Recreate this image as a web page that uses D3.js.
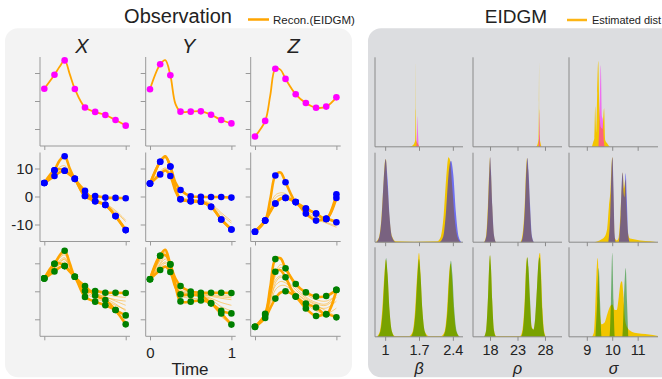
<!DOCTYPE html>
<html>
<head>
<meta charset="utf-8">
<script src="https://cdn.jsdelivr.net/npm/d3@7"></script>
<style>
  body { margin: 0; background: #fff; }
  svg { font-family: "Liberation Sans", Arial, sans-serif; }
</style>
</head>
<body>
<svg id="chart" width="662" height="379"></svg>
<script>
// time grid of the reconstructed curves, observations sit on obsIdx
const times = [0, 0.125, 0.1875, 0.25, 0.3125, 0.375, 0.5, 0.625, 0.75, 0.875, 1]
const obsIdx = [0, 1, 3, 5, 6, 7, 8, 9, 10]
const varNames = ['X', 'Y', 'Z']
const paramNames = ['β', 'ρ', 'σ']
const rowColors = ['#ff00ff', '#0000ff', '#008000']
const yTicks = [-10, 0, 10]
const timeTicks = [0, 1]
const paramTicks = [[1, 1.7, 2.4], [18, 23, 28], [9, 10, 11]]
const paramDomains = [[0.79, 2.61], [14.9, 31.1], [8.3, 11.8]]

// row 1 (single trajectory)
const boldX1 = [[4.4, 9.4, 12.2, 14.5, 9.6, 4.3, -2.3, -3.9, -5.0, -6.8, -8.8]]
const boldY1 = [[4.2, 13.1, 14.6, 9.2, -1.0, -3.8, -3.8, -3.7, -4.9, -6.8, -8.0]]
const boldZ1 = [[-12.7, -7.1, 2.0, 11.5, 11.2, 7.9, 2.4, -0.7, -2.4, -2.0, 1.3]]

// row 2
const boldX2 = [
  [4.8, 9.4, 12.8, 14.4, 10.0, 6.3, 2.0, -1.7, -3.0, -7.0, -12.0],
  [4.8, 7.3, 8.6, 9.2, 8.0, 6.3, 0.2, 0.2, -0.4, -0.5, -0.6],
  [4.8, 9.4, 9.8, 9.2, 7.8, 6.3, 0.2, -1.7, -3.0, -7.0, -12.0]
]
const thinX2 = [
  [4.8, 8.2, 9.5, 10.2, 8.6, 6.0, 0.8, -1.2, -2.8, -5.5, -9.0],
  [4.8, 8.5, 10.5, 11.0, 8.8, 6.1, 1.0, -1.0, -2.5, -5.0, -8.5]
]
const boldY2 = [
  [4.6, 12.4, 14.4, 10.7, 5.0, 2.3, 0.1, -0.1, -0.2, -0.2, -0.4],
  [4.6, 7.9, 9.3, 7.3, 2.0, -1.0, -1.7, -1.9, -3.7, -8.2, -11.8],
  [4.6, 12.4, 14.2, 10.7, 3.0, -1.0, -1.7, -1.9, -3.7, -8.2, -11.8]
]
const thinY2 = [
  [4.6, 8.5, 9.8, 8.0, 2.5, -0.5, -1.2, -1.5, -3.0, -6.5, -9.5],
  [4.6, 9.0, 10.2, 8.5, 3.0, -0.3, -1.0, -1.3, -2.5, -5.8, -8.8]
]
const boldZ2 = [
  [-12.6, -8.6, -1.0, 7.5, 8.6, 5.1, -2.0, -4.3, -6.1, -8.0, 0.8],
  [-12.6, -8.6, -5.5, -2.5, -0.8, -0.5, -2.0, -6.1, -8.6, -8.0, -9.2],
  [-12.6, -8.6, -5.0, -2.5, -0.8, -0.5, -2.0, -4.3, -6.1, -8.0, -0.5]
]
const thinZ2 = [
  [-12.6, -8.0, -3.0, 0.5, 1.3, 1.0, -2.0, -5.0, -7.5, -9.2, -10.5],
  [-12.6, -8.3, -4.0, -0.5, 0.5, 0.3, -2.2, -5.5, -8.0, -9.5, -11.0]
]

// row 3
const boldX3 = [
  [4.6, 9.8, 12.8, 14.5, 10.0, 5.2, 1.9, -1.5, -3.1, -6.7, -11.8],
  [4.6, 7.1, 8.5, 9.0, 7.2, 5.2, 0.1, 0.1, -0.5, -0.5, -0.6],
  [4.6, 9.8, 10.0, 9.0, 7.0, 5.2, -2.0, -3.7, -5.0, -6.7, -8.6]
]
const thinX3 = [
  [4.6, 8.5, 11.0, 12.0, 9.0, 5.0, 1.0, -0.5, -2.0, -3.0, -3.5],
  [4.6, 8.0, 9.5, 10.5, 8.0, 4.8, 0.5, -1.0, -2.0, -3.5, -5.0],
  [4.6, 9.0, 11.8, 13.0, 9.5, 5.0, -0.5, -2.5, -4.0, -7.5, -10.5],
  [4.6, 8.6, 10.6, 11.3, 8.5, 5.0, 1.3, 0.0, -1.0, -1.8, -2.2],
  [4.6, 8.2, 10.0, 11.6, 8.8, 5.1, 0.0, -1.8, -3.2, -5.0, -6.5],
  [4.6, 9.4, 12.2, 13.6, 9.8, 5.1, 1.5, -0.8, -2.5, -4.5, -7.0]
]
const boldY3 = [
  [4.3, 12.7, 14.8, 9.6, 4.5, 1.9, -0.1, -0.5, -0.5, -0.5, -0.6],
  [4.3, 7.6, 8.8, 6.9, 1.5, -1.1, -1.3, -1.7, -4.3, -7.9, -11.9],
  [4.3, 12.7, 13.0, 9.6, 2.0, -3.6, -3.7, -3.3, -4.3, -7.0, -7.9]
]
const thinY3 = [
  [4.3, 10.0, 12.5, 9.0, 3.0, 0.0, -0.8, -1.2, -1.8, -2.5, -3.0],
  [4.3, 9.0, 10.5, 8.0, 2.5, -0.5, -1.0, -1.5, -2.5, -4.0, -5.0],
  [4.3, 11.5, 14.0, 9.5, 3.5, -1.5, -2.5, -2.8, -4.5, -9.0, -12.0],
  [4.3, 8.5, 10.0, 7.5, 2.0, -0.3, -0.7, -1.0, -1.5, -2.0, -2.3],
  [4.3, 9.5, 11.5, 8.8, 2.8, -0.8, -1.4, -1.8, -3.0, -5.5, -7.0],
  [4.3, 11.0, 13.2, 9.3, 3.2, 0.5, -0.3, -0.8, -1.2, -1.5, -1.8]
]
const boldZ3 = [
  [-12.7, -8.0, 1.5, 11.5, 11.8, 8.2, 2.6, -0.4, -1.9, -1.7, 0.5],
  [-12.7, -8.5, -0.5, 7.0, 7.5, 5.0, -1.9, -4.4, -5.8, -8.2, 0.5],
  [-12.7, -9.5, -6.0, -2.6, -0.5, 0.0, -1.9, -6.1, -8.8, -8.2, -9.3]
]
const thinZ3 = [
  [-12.7, -8.0, -1.5, 4.0, 5.5, 4.5, 0.5, -2.5, -4.5, -5.0, -2.0],
  [-12.7, -8.2, -3.0, 2.0, 3.5, 3.0, -0.5, -3.5, -5.5, -6.0, -3.5],
  [-12.7, -8.5, -2.0, 5.5, 8.5, 7.5, 1.5, -2.0, -4.0, -4.5, -1.0],
  [-12.7, -9.0, -4.5, 0.5, 2.0, 2.0, -1.0, -4.5, -7.0, -8.0, -6.0],
  [-12.7, -8.3, -1.0, 6.5, 9.5, 8.5, 2.5, -1.0, -3.0, -3.5, -1.5],
  [-12.7, -8.8, -3.5, 3.0, 5.0, 4.0, -0.5, -3.0, -5.0, -7.0, -9.0]
]

// densities [value, relative height]; est = estimated (yellow), tru = overlay
const estBeta1 = [[1.50, 0], [1.58, 0.02], [1.61, 0.05], [1.622, 0.08], [1.628, 0.4], [1.632, 0.95], [1.637, 0.4], [1.645, 0.07], [1.68, 0.03], [1.71, 0]]
const truBeta1 = [[1.645, 0], [1.658, 0.15], [1.668, 0.34], [1.68, 0.15], [1.695, 0]]
const estRho1 = [[26.4, 0], [26.7, 0.04], [26.85, 0.1], [26.9, 0.5], [26.93, 0.94], [26.97, 0.4], [27.05, 0.1], [27.2, 0.04], [27.4, 0]]
const truRho1 = [[26.85, 0], [26.93, 0.15], [27.0, 0.39], [27.07, 0.12], [27.15, 0]]
const estSigma1 = [[9.2, 0], [9.25, 0.05], [9.3, 0.1], [9.33, 0.45], [9.37, 0.15], [9.41, 0.6], [9.45, 0.96], [9.49, 0.45], [9.55, 0.22], [9.62, 0.2], [9.68, 0.43], [9.72, 0.08], [9.8, 0.04], [9.9, 0]]
const truSigma1 = [[9.46, 0], [9.5, 0.3], [9.55, 0.91], [9.59, 0.35], [9.63, 0.3], [9.66, 0.1], [9.7, 0]]

const estBeta2 = [[0.8, 0], [0.87, 0.05], [0.92, 0.25], [0.96, 0.6], [0.995, 0.9], [1.015, 0.93], [1.05, 0.62], [1.09, 0.28], [1.14, 0.07], [1.22, 0.01], [1.6, 0.005], [2.08, 0.01], [2.15, 0.06], [2.21, 0.3], [2.26, 0.7], [2.31, 0.95], [2.34, 0.92], [2.39, 0.6], [2.44, 0.25], [2.5, 0.05], [2.56, 0]]
const truBeta2 = [[0.82, 0], [0.88, 0.06], [0.93, 0.3], [0.97, 0.7], [1.01, 0.93], [1.05, 0.7], [1.09, 0.3], [1.14, 0.06], [1.22, 0], [2.12, 0], [2.2, 0.06], [2.26, 0.35], [2.31, 0.75], [2.36, 0.91], [2.41, 0.75], [2.46, 0.35], [2.52, 0.06], [2.58, 0]]
const estRho2 = [[16.9, 0], [17.3, 0.08], [17.6, 0.4], [17.85, 0.8], [18.0, 0.95], [18.15, 0.8], [18.4, 0.4], [18.7, 0.08], [19.1, 0], [23.5, 0], [23.9, 0.08], [24.3, 0.4], [24.55, 0.8], [24.75, 0.94], [24.95, 0.8], [25.25, 0.4], [25.55, 0.08], [25.95, 0]]
const truRho2 = [[16.95, 0], [17.35, 0.08], [17.65, 0.4], [17.88, 0.8], [18.02, 0.95], [18.17, 0.8], [18.42, 0.4], [18.72, 0.08], [19.1, 0], [23.6, 0], [24.0, 0.08], [24.35, 0.4], [24.6, 0.8], [24.8, 0.94], [25.0, 0.8], [25.3, 0.4], [25.6, 0.08], [26.0, 0]]
const estSigma2 = [[9.3, 0], [9.5, 0.02], [9.7, 0.06], [9.8, 0.15], [9.87, 0.4], [9.93, 0.58], [9.98, 0.9], [10.01, 0.95], [10.05, 0.5], [10.1, 0.05], [10.18, 0.02], [10.25, 0.05], [10.32, 0.3], [10.38, 0.65], [10.41, 0.78], [10.46, 0.6], [10.52, 0.7], [10.56, 0.4], [10.62, 0.1], [10.7, 0.04], [10.9, 0.03], [11.1, 0.02], [11.5, 0.01], [11.8, 0]]
const truSigma2 = [[9.85, 0], [9.92, 0.3], [9.97, 0.8], [10.01, 0.95], [10.05, 0.6], [10.09, 0.1], [10.14, 0], [10.26, 0], [10.33, 0.3], [10.38, 0.7], [10.41, 0.78], [10.45, 0.55], [10.48, 0.5], [10.53, 0.77], [10.57, 0.5], [10.62, 0.12], [10.68, 0]]

const estBeta3 = [[0.82, 0], [0.89, 0.06], [0.94, 0.3], [0.985, 0.7], [1.015, 0.86], [1.05, 0.7], [1.09, 0.3], [1.14, 0.06], [1.2, 0.01], [1.5, 0.01], [1.57, 0.06], [1.62, 0.3], [1.665, 0.72], [1.7, 0.94], [1.73, 0.72], [1.77, 0.3], [1.82, 0.06], [1.9, 0.01], [2.16, 0.01], [2.23, 0.06], [2.28, 0.3], [2.32, 0.68], [2.35, 0.82], [2.38, 0.68], [2.42, 0.3], [2.47, 0.06], [2.55, 0]]
const truBeta3 = [[0.84, 0], [0.9, 0.06], [0.95, 0.3], [0.99, 0.7], [1.02, 0.88], [1.05, 0.7], [1.09, 0.3], [1.14, 0.06], [1.2, 0], [1.52, 0], [1.58, 0.06], [1.63, 0.3], [1.67, 0.7], [1.7, 0.87], [1.73, 0.7], [1.77, 0.3], [1.82, 0.06], [1.88, 0], [2.18, 0], [2.24, 0.06], [2.29, 0.3], [2.33, 0.7], [2.36, 0.85], [2.39, 0.7], [2.43, 0.3], [2.48, 0.06], [2.54, 0]]
const estRho3 = [[16.9, 0], [17.3, 0.08], [17.6, 0.4], [17.85, 0.8], [18.0, 0.91], [18.15, 0.8], [18.4, 0.4], [18.7, 0.08], [19.1, 0.01], [23.5, 0.01], [23.9, 0.08], [24.3, 0.4], [24.55, 0.78], [24.75, 0.89], [24.95, 0.78], [25.25, 0.4], [25.55, 0.12], [25.9, 0.08], [26.25, 0.22], [26.6, 0.6], [26.9, 0.9], [27.1, 0.94], [27.3, 0.7], [27.55, 0.3], [27.85, 0.06], [28.2, 0]]
const truRho3 = [[16.9, 0], [17.3, 0.08], [17.6, 0.4], [17.85, 0.8], [18.0, 0.91], [18.15, 0.8], [18.4, 0.4], [18.7, 0.08], [19.1, 0], [23.6, 0], [24.0, 0.08], [24.35, 0.4], [24.6, 0.78], [24.8, 0.89], [25.0, 0.78], [25.3, 0.4], [25.6, 0.1], [25.9, 0.08], [26.2, 0.2], [26.55, 0.55], [26.85, 0.85], [27.05, 0.89], [27.25, 0.7], [27.5, 0.3], [27.8, 0.06], [28.1, 0]]
const estSigma3 = [[9.2, 0], [9.28, 0.05], [9.33, 0.3], [9.38, 0.7], [9.43, 0.88], [9.47, 0.6], [9.52, 0.25], [9.58, 0.14], [9.7, 0.16], [9.8, 0.25], [9.9, 0.33], [10.0, 0.36], [10.1, 0.3], [10.18, 0.3], [10.26, 0.45], [10.33, 0.6], [10.38, 0.62], [10.43, 0.5], [10.5, 0.2], [10.6, 0.1], [10.75, 0.06], [11.0, 0.04], [11.3, 0.03], [11.6, 0.02], [11.8, 0.01]]
const truSigma3 = [[9.34, 0], [9.41, 0.4], [9.47, 0.77], [9.52, 0.4], [9.58, 0], [9.9, 0], [9.95, 0.4], [10.0, 0.94], [10.05, 0.4], [10.1, 0], [10.4, 0], [10.46, 0.4], [10.53, 0.77], [10.58, 0.4], [10.63, 0]]

const boldRows = [[boldX1, boldY1, boldZ1], [boldX2, boldY2, boldZ2], [boldX3, boldY3, boldZ3]]
const thinRows = [[[], [], []], [thinX2, thinY2, thinZ2], [thinX3, thinY3, thinZ3]]
const estRows = [[estBeta1, estRho1, estSigma1], [estBeta2, estRho2, estSigma2], [estBeta3, estRho3, estSigma3]]
const truRows = [[truBeta1, truRho1, truSigma1], [truBeta2, truRho2, truSigma2], [truBeta3, truRho3, truSigma3]]

const svg = d3.select('#chart')
const axisColor = '#999'
const orange = '#ffa500'
const gold = '#f2c500'

// panel backgrounds
svg.append('rect')
  .attr('x', 5).attr('y', 28.3).attr('width', 347).attr('height', 349)
  .attr('rx', 13).attr('fill', '#f3f3f3')
svg.append('rect')
  .attr('x', 368).attr('y', 28.3).attr('width', 310).attr('height', 349)
  .attr('rx', 13).attr('fill', '#dcdde0')

// titles and legends
svg.append('text').attr('x', 178).attr('y', 23).attr('text-anchor', 'middle')
  .style('font-size', '20px').attr('fill', '#222').text('Observation')
svg.append('line').attr('x1', 248).attr('x2', 269).attr('y1', 19.5).attr('y2', 19.5)
  .attr('stroke', orange).attr('stroke-width', 2.5)
svg.append('text').attr('x', 273).attr('y', 24).style('font-size', '11.5px')
  .attr('fill', '#222').text('Recon.(EIDGM)')

svg.append('text').attr('x', 516).attr('y', 23).attr('text-anchor', 'middle')
  .style('font-size', '19px').attr('fill', '#222').text('EIDGM')
svg.append('line').attr('x1', 567).attr('x2', 587).attr('y1', 20).attr('y2', 20)
  .attr('stroke', '#fdb515').attr('stroke-width', 2.5)
svg.append('text').attr('x', 592).attr('y', 24).style('font-size', '11px')
  .attr('fill', '#222').text('Estimated dist')

const rowTop = [57, 152.5, 247.3]
const plotH = 89

// ---- left: observations and reconstructions
const leftX0 = [40, 145.7, 250.7]
const leftW = 90

const tx = d3.scaleLinear().domain([0, 1]).range([4.3, 85.7])
const vy = d3.scaleLinear().domain([-10, 10]).range([72, 16])
const traj = d3.line()
  .x((d, i) => tx(times[i]))
  .y(d => vy(d))
  .curve(d3.curveCatmullRom.alpha(0.5))

varNames.forEach((name, c) => {
  svg.append('text')
    .attr('x', leftX0[c] + 43 + (c === 0 ? -1 : 0)).attr('y', 52.5)
    .attr('text-anchor', 'middle').style('font-size', '20px').style('font-style', 'italic')
    .attr('fill', '#222').text(name)
})

boldRows.forEach((row, r) => row.forEach((bold, c) => {
  const g = svg.append('g').attr('transform', `translate(${leftX0[c]},${rowTop[r]})`)

  g.append('line').attr('x1', 0).attr('x2', 0).attr('y1', 0).attr('y2', plotH)
    .attr('stroke', axisColor)
  g.append('line').attr('x1', 0).attr('x2', leftW).attr('y1', plotH).attr('y2', plotH)
    .attr('stroke', axisColor)

  const ya = g.append('g')
    .call(d3.axisLeft(vy).tickValues(yTicks).tickSize(5).tickPadding(2)
      .tickFormat(r === 1 && c === 0 ? d => String(d) : ''))
  ya.select('.domain').remove()
  ya.selectAll('line').attr('stroke', axisColor)
  ya.selectAll('text').style('font-size', '15px').attr('fill', '#222')

  const xa = g.append('g').attr('transform', `translate(0,${plotH})`)
    .call(d3.axisBottom(tx).tickValues(timeTicks).tickSize(4).tickPadding(6.7)
      .tickFormat(r === 2 && c === 1 ? d => String(d) : ''))
  xa.select('.domain').remove()
  xa.selectAll('line').attr('stroke', axisColor)
  xa.selectAll('text').style('font-size', '15px').attr('fill', '#222')

  g.selectAll('path.thin')
    .data(thinRows[r][c])
    .join('path')
    .attr('class', 'thin')
    .attr('d', traj)
    .attr('fill', 'none')
    .attr('stroke', orange)
    .attr('stroke-opacity', 0.5)
    .attr('stroke-width', 1)

  g.selectAll('path.bold')
    .data(bold)
    .join('path')
    .attr('class', 'bold')
    .attr('d', traj)
    .attr('fill', 'none')
    .attr('stroke', orange)
    .attr('stroke-width', r === 0 ? 1.8 : 2.6)

  const pts = bold.flatMap(tr => obsIdx.map(i => [times[i], tr[i]]))
  g.selectAll('circle')
    .data(pts)
    .join('circle')
    .attr('cx', d => tx(d[0]))
    .attr('cy', d => vy(d[1]))
    .attr('r', 3.3)
    .attr('fill', rowColors[r])
}))

svg.append('text').attr('x', 190).attr('y', 375).attr('text-anchor', 'middle')
  .style('font-size', '17px').attr('fill', '#222').text('Time')

// ---- right: parameter densities
const rightX0 = [375, 473, 569]
const rightW = [88, 89, 89]
const rightH = 89.5
const rightTop = [57.3, 152.7, 247.3]
const dy = d3.scaleLinear().domain([0, 1]).range([rightH, 0])

estRows.forEach((row, r) => row.forEach((est, c) => {
  const g = svg.append('g').attr('transform', `translate(${rightX0[c]},${rightTop[r]})`)
  const px = d3.scaleLinear().domain(paramDomains[c]).range([0, rightW[c]])
  const area = d3.area()
    .x(d => px(d[0]))
    .y0(rightH)
    .y1(d => dy(d[1]))
    .curve(d3.curveMonotoneX)

  g.append('path').attr('d', area(est)).attr('fill', gold)
  g.append('path').attr('d', area(truRows[r][c]))
    .attr('fill', rowColors[r]).attr('fill-opacity', 0.5)

  g.append('line').attr('x1', 0).attr('x2', 0).attr('y1', 0).attr('y2', rightH)
    .attr('stroke', '#8a8a8a')
  g.append('line').attr('x1', 0).attr('x2', rightW[c]).attr('y1', rightH).attr('y2', rightH)
    .attr('stroke', '#8a8a8a')

  const xa = g.append('g').attr('transform', `translate(0,${rightH})`)
    .call(d3.axisBottom(px).tickValues(paramTicks[c]).tickSize(4).tickPadding(4)
      .tickFormat(r === 2 ? d => String(d) : ''))
  xa.select('.domain').remove()
  xa.selectAll('line').attr('stroke', '#8a8a8a')
  xa.selectAll('text').style('font-size', '14.5px').attr('fill', '#222')
}))

paramNames.forEach((p, c) => {
  svg.append('text')
    .attr('x', rightX0[c] + rightW[c] / 2).attr('y', 373.5)
    .attr('text-anchor', 'middle').style('font-size', '16px').style('font-style', 'italic')
    .attr('fill', '#222').text(p)
})
</script>
</body>
</html>
